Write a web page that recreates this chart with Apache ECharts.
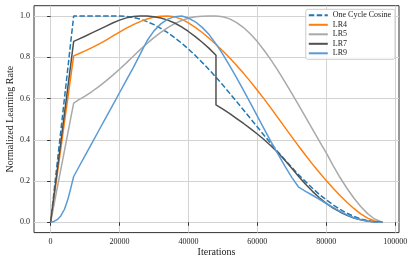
<!DOCTYPE html>
<html>
<head>
<meta charset="utf-8">
<script src="https://cdn.jsdelivr.net/npm/echarts@6/dist/echarts.min.js"></script>
<style>html,body{margin:0;padding:0;background:#fff;}#c{width:415px;height:264px;}</style>
</head>
<body>
<div id="c"></div>
<script>
const iterations = [0,1000,2000,3000,4000,5000,6000,6700,8000,10000,12000,14000,16000,18000,20000,22000,24000,26000,28000,30000,32000,34000,36000,38000,40000,42000,44000,46000,48000,48000,50000,52000,54000,56000,58000,60000,62000,64000,66000,68000,70000,72000,74000,76000,78000,80000,82000,84000,86000,88000,90000,92000,94000,96300];
const oneCycleCosine = [0,0.149,0.299,0.448,0.597,0.746,0.896,1.0,1.0,1.0,1.0,1.0,1.0,1.0,1.0,0.998,0.993,0.985,0.973,0.958,0.940,0.919,0.895,0.869,0.840,0.809,0.775,0.740,0.703,0.703,0.665,0.625,0.585,0.544,0.503,0.462,0.421,0.381,0.341,0.303,0.266,0.230,0.197,0.165,0.135,0.109,0.084,0.063,0.044,0.029,0.016,0.008,0.002,0];
const lr4 = [0,0.120,0.241,0.361,0.482,0.602,0.723,0.807,0.816,0.831,0.847,0.864,0.882,0.902,0.922,0.941,0.958,0.973,0.986,0.995,0.999,1.0,0.996,0.985,0.967,0.945,0.920,0.892,0.862,0.862,0.830,0.796,0.760,0.722,0.682,0.640,0.597,0.552,0.506,0.460,0.414,0.369,0.325,0.282,0.241,0.202,0.165,0.130,0.097,0.067,0.041,0.020,0.006,0];
const lr5 = [0,0.086,0.173,0.259,0.345,0.431,0.518,0.578,0.592,0.612,0.634,0.658,0.684,0.712,0.742,0.773,0.805,0.837,0.867,0.895,0.921,0.944,0.963,0.978,0.989,0.996,0.999,1.0,1.0,1.0,0.996,0.986,0.968,0.944,0.913,0.876,0.833,0.786,0.735,0.681,0.625,0.568,0.510,0.452,0.394,0.337,0.275,0.217,0.165,0.118,0.077,0.042,0.016,0];
const lr7 = [0,0.131,0.262,0.393,0.524,0.654,0.785,0.877,0.887,0.902,0.918,0.934,0.950,0.966,0.980,0.991,0.998,1.0,1.0,0.996,0.990,0.980,0.966,0.947,0.925,0.900,0.873,0.843,0.810,0.569,0.549,0.527,0.503,0.479,0.454,0.428,0.400,0.370,0.337,0.301,0.262,0.222,0.184,0.150,0.119,0.092,0.069,0.050,0.034,0.021,0.012,0.006,0.002,0];
const lr9 = [0,0.004,0.014,0.032,0.062,0.110,0.175,0.222,0.262,0.323,0.384,0.445,0.506,0.567,0.628,0.689,0.750,0.815,0.880,0.928,0.962,0.985,0.997,1.0,0.990,0.972,0.945,0.910,0.865,0.865,0.814,0.758,0.700,0.640,0.578,0.515,0.452,0.390,0.330,0.272,0.218,0.170,0.150,0.131,0.111,0.091,0.072,0.053,0.036,0.022,0.012,0.005,0.001,0];
const xTicks = [0,20000,40000,60000,80000,100000];
const yTicks = [0,0.2,0.4,0.6,0.8,1.0];
const seriesNames = ['One Cycle Cosine','LR4','LR5','LR7','LR9'];
const seriesValues = [oneCycleCosine, lr4, lr5, lr7, lr9];
const seriesColors = ['#1f77b4','#ff7f0e','#a9a9a9','#505050','#5b9bd5'];

const font = 'Liberation Serif, Times New Roman, serif';
const chart = echarts.init(document.getElementById('c'), null, {renderer:'canvas'});
chart.setOption({
  animation: false,
  backgroundColor: '#fff',
  grid: {left: 34, right: 16, top: 5.7, bottom: 31.4, containLabel: false, outerBoundsMode: 'none', show: true, borderColor: '#333', borderWidth: 1, backgroundColor: 'transparent'},
  legend: {
    orient: 'vertical', right: 20, top: 9.3,
    itemWidth: 19, itemHeight: 10, itemGap: 1.5,
    padding: [2, 4, 2, 2],
    backgroundColor: 'rgba(255,255,255,0.85)', borderColor: '#cccccc', borderWidth: 1, borderRadius: 2,
    itemStyle: {opacity: 0},
    textStyle: {fontFamily: font, fontSize: 8, color: '#222'},
    data: seriesNames
  },
  xAxis: {
    type: 'value', min: -4815, max: 101115,
    name: 'Iterations', nameLocation: 'middle', nameGap: 15, nameMoveOverlap: false,
    nameTextStyle: {fontFamily: font, fontSize: 10, color: '#222'},
    axisLine: {show: false},
    axisTick: {show: true, inside: false, length: 3.5, lineStyle: {color: '#333'}, customValues: xTicks},
    axisLabel: {fontFamily: font, fontSize: 8, color: '#222', margin: 5, customValues: xTicks, formatter: v => String(v)},
    splitLine: {show: true, lineStyle: {color: '#d3d3d3', width: 1}}
  },
  yAxis: {
    type: 'value', min: -0.05, max: 1.05,
    name: 'Normalized Learning Rate', nameLocation: 'middle', nameGap: 19, nameMoveOverlap: false,
    nameTextStyle: {fontFamily: font, fontSize: 10, color: '#222'},
    axisLine: {show: false},
    axisTick: {show: true, inside: false, length: 3.5, lineStyle: {color: '#333'}, customValues: yTicks},
    axisLabel: {fontFamily: font, fontSize: 8, color: '#222', margin: 4, customValues: yTicks, formatter: v => v.toFixed(1)},
    splitLine: {show: true, lineStyle: {color: '#d3d3d3', width: 1}}
  },
  series: seriesNames.map((name, i) => ({
    name: name, type: 'line', showSymbol: false, symbol: 'none',
    data: iterations.map((x, j) => [x, seriesValues[i][j]]),
    lineStyle: {color: seriesColors[i], width: 1.5, type: i === 0 ? [5.5, 2.4] : 'solid'},
    itemStyle: {color: seriesColors[i]},
    z: 2 + i
  }))
});
</script>
</body>
</html>
